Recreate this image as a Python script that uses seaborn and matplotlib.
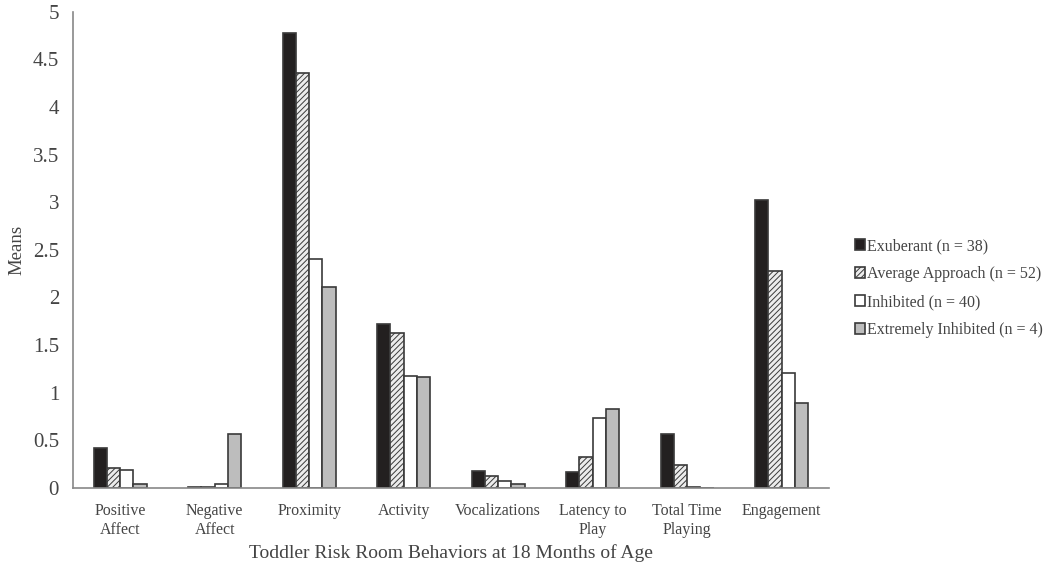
import pandas as pd
import matplotlib.pyplot as plt
import seaborn as sns

# Data
behaviors = ["Positive\nAffect", "Negative\nAffect", "Proximity", "Activity",
             "Vocalizations", "Latency to\nPlay", "Total Time\nPlaying", "Engagement"]
groups = ["Exuberant (n = 38)", "Average Approach (n = 52)",
          "Inhibited (n = 40)", "Extremely Inhibited (n = 4)"]
exuberant = [0.42, 0.005, 4.78, 1.72, 0.18, 0.17, 0.57, 3.02]
average = [0.21, 0.01, 4.36, 1.63, 0.12, 0.32, 0.24, 2.28]
inhibited = [0.19, 0.04, 2.40, 1.18, 0.07, 0.73, 0.01, 1.21]
extreme = [0.04, 0.57, 2.11, 1.17, 0.04, 0.83, 0.0, 0.89]

rows = []
for g, vals in zip(groups, [exuberant, average, inhibited, extreme]):
    for b, v in zip(behaviors, vals):
        rows.append({"behavior": b, "group": g, "mean": v})
df = pd.DataFrame(rows)

sns.set_style("white")
plt.rcParams["font.family"] = ["Liberation Serif", "DejaVu Serif"]
plt.rcParams["hatch.color"] = "#a8a8a8"
plt.rcParams["hatch.linewidth"] = 0.7

fig = plt.figure(figsize=(10.5, 5.66), dpi=100)
ax = fig.add_axes([0.0695, 0.138, 0.72, 0.841])

colors = ["#231f20", "#ececec", "#ffffff", "#bdbdbd"]
sns.barplot(data=df, x="behavior", y="mean", hue="group", palette=colors,
            width=0.56, edgecolor="#3a3a3a", linewidth=1.2, ax=ax)

for bar in ax.containers[1]:
    bar.set_hatch("//////")

ax.set_ylim(0, 5)
ax.set_yticks([0, 0.5, 1, 1.5, 2, 2.5, 3, 3.5, 4, 4.5, 5])
ax.set_yticklabels(["0", "0.5", "1", "1.5", "2", "2.5", "3", "3.5", "4", "4.5", "5"])
ax.set_xlim(-0.5, 7.5)
ax.tick_params(axis="y", length=5, pad=5, color="#888888", labelsize=15, labelcolor="#444444")
ax.tick_params(axis="x", length=0, pad=11, labelsize=11.5, labelcolor="#444444")
for s in ["top", "right"]:
    ax.spines[s].set_visible(False)
for s in ["left", "bottom"]:
    ax.spines[s].set_color("#888888")
    ax.spines[s].set_linewidth(1.2)

ax.set_ylabel("Means", fontsize=13.5, color="#444444", labelpad=5)
ax.set_xlabel("Toddler Risk Room Behaviors at 18 Months of Age", fontsize=14,
              color="#444444", labelpad=5)

leg = ax.legend(loc="center left", bbox_to_anchor=(1.034, 0.42), frameon=False,
                fontsize=11.5, handlelength=0.65, handleheight=0.65,
                handletextpad=0.15, labelspacing=0.75, borderpad=0, borderaxespad=0)
for t in leg.get_texts():
    t.set_color("#444444")
for h, c in zip(leg.legend_handles, colors):
    h.set_facecolor(c)
    h.set_edgecolor("#3a3a3a")
    h.set_linewidth(1.2)
leg.legend_handles[1].set_hatch("//////")

plt.savefig("out.png", dpi=100)
